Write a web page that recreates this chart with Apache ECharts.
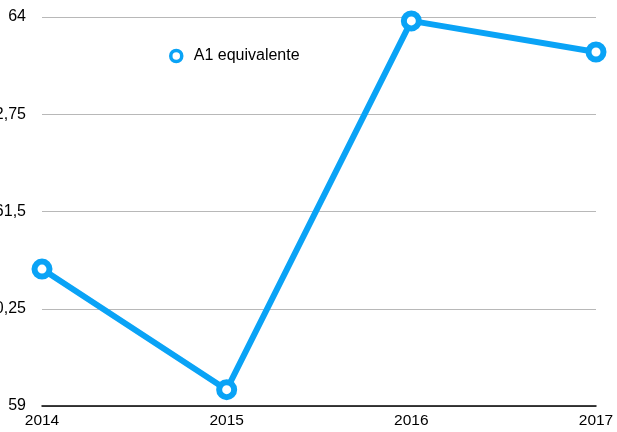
<!DOCTYPE html>
<html>
<head>
<meta charset="utf-8">
<script src="https://cdn.jsdelivr.net/npm/echarts@6/dist/echarts.min.js"></script>
<style>
  html, body { margin: 0; padding: 0; background: #fff; }
  #main { width: 617px; height: 432px; }
</style>
</head>
<body>
<div id="main"></div>
<script>
var years = ['2014', '2015', '2016', '2017']
var a1Values = [60.76, 59.21, 63.95, 63.55]
var yTicks = { min: 59, max: 64, step: 1.25 }

var blue = '#0aa3f6'
var chart = echarts.init(document.getElementById('main'))

var option = {
    animation: false,
    textStyle: { fontFamily: 'Liberation Sans, Arial, sans-serif' },
    legend: {
        left: 164,
        top: 43,
        icon: 'circle',
        itemWidth: 11,
        itemHeight: 11,
        itemGap: 10,
        textStyle: { fontSize: 16, color: '#000', padding: [0, 0, 0, 7] },
        itemStyle: { color: '#fff', borderColor: blue, borderWidth: 3.5 },
        data: ['A1 equivalente']
    },
    // pas de containLabel : les libellés de gauche sont coupés comme dans l'original
    grid: { left: 42, right: 21, top: 17, bottom: 26, outerBoundsMode: 'none', containLabel: false },
    xAxis: {
        type: 'category',
        boundaryGap: false,
        data: years,
        axisLine: { lineStyle: { color: '#000', width: 1.5 } },
        axisTick: { show: false },
        axisLabel: { fontSize: 15.5, color: '#000', margin: 7 }
    },
    yAxis: {
        type: 'value',
        min: yTicks.min,
        max: yTicks.max,
        interval: yTicks.step,
        axisLine: { show: false },
        axisTick: { show: false },
        axisLabel: {
            fontSize: 16,
            color: '#000',
            margin: 16,
            formatter: function (v) { return String(v).replace('.', ',') }
        },
        splitLine: { lineStyle: { color: '#b8b8b8', width: 1 } }
    },
    series: [{
        name: 'A1 equivalente',
        type: 'line',
        data: a1Values,
        symbol: 'circle',
        symbolSize: 15,
        lineStyle: { color: blue, width: 6 },
        itemStyle: { color: '#fff', borderColor: blue, borderWidth: 6 },
        z: 3
    }]
}

chart.setOption(option, true)
</script>
</body>
</html>
